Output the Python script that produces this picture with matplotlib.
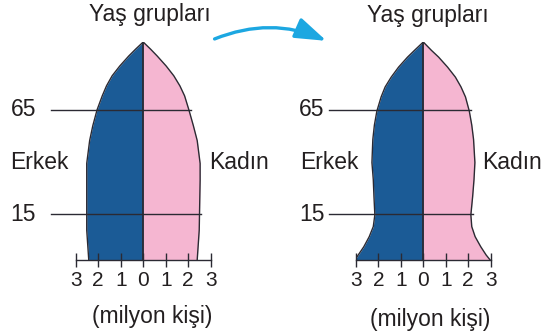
import numpy as np
import matplotlib
matplotlib.use("Agg")
import matplotlib.pyplot as plt
from matplotlib.patches import FancyArrowPatch

plt.rcParams["font.family"] = ["Liberation Sans", "DejaVu Sans"]

# height along the pyramid, 0 = bottom, 100 = top (percent)
h_old = [0, 13.7, 36.5, 44.3, 54.8, 61.6, 68.9, 75.3, 79.9, 84.5, 89.0, 93.6, 96.7, 100]
male_old = [2.42, 2.51, 2.51, 2.51, 2.38, 2.24, 2.05, 1.82, 1.63, 1.38, 1.04, 0.64, 0.34, 0]
female_old = [2.40, 2.49, 2.53, 2.53, 2.40, 2.23, 2.03, 1.84, 1.63, 1.36, 1.02, 0.62, 0.33, 0]

h_new = [0, 2.3, 6.1, 10.7, 15.3, 20.7, 29.2, 36.9, 44.7, 55.3, 61.9, 68.3, 74.8, 79.4,
         83.9, 88.5, 93.1, 96.2, 100]
male_new = [3.05, 2.90, 2.65, 2.41, 2.23, 2.16, 2.20, 2.23, 2.29, 2.25, 2.18, 2.07, 1.88,
            1.70, 1.43, 1.10, 0.70, 0.39, 0]
female_new = [2.98, 2.80, 2.56, 2.31, 2.16, 2.12, 2.20, 2.26, 2.30, 2.24, 2.16, 2.05, 1.88,
              1.68, 1.43, 1.08, 0.68, 0.36, 0]

age_marks = ["15", "65"]
mark_levels = [21, 69]

ticks = [-3, -2, -1, 0, 1, 2, 3]
tick_labels = ["3", "2", "1", "0", "1", "2", "3"]

BLUE = "#1b5b96"
PINK = "#f5b6d1"
EDGE = "#2b2a33"
TXT = "#231f20"
FS = 16.5

fig = plt.figure(figsize=(5.45, 3.35), dpi=100)


def pyramid(ax, h, male, female, lab_x, line_x0, erkek_x, kadin_x, mid_x, title_y, unit_y):
    h = np.array(h)
    male = np.array(male)
    female = np.array(female)
    ax.fill_betweenx(h, -male, 0, color=BLUE, lw=0)
    ax.fill_betweenx(h, 0, female, color=PINK, lw=0)
    ax.plot(-male, h, color=EDGE, lw=1.0)
    ax.plot(female, h, color=EDGE, lw=1.0)
    ax.axvline(0, color=EDGE, lw=1.3)

    for lab, lv in zip(age_marks, mark_levels):
        x1 = np.interp(lv, h, female) + 0.08
        ax.plot([line_x0, x1], [lv, lv], color=EDGE, lw=1.0, clip_on=False)
        ax.text(lab_x, lv, lab, ha="right", va="center", fontsize=FS, color=TXT)

    ax.text(erkek_x, 44.5, "Erkek", ha="left", va="center", fontsize=FS, color=TXT)
    ax.text(kadin_x, 44.5, "Kadın", ha="left", va="center", fontsize=FS, color=TXT)
    ax.text(mid_x, title_y, "Yaş grupları", ha="center", va="baseline", fontsize=FS, color=TXT)
    ax.text(mid_x + 0.08, unit_y, "(milyon kişi)", ha="center", va="center", fontsize=FS, color=TXT)

    ax.set_xlim(-3, 3)
    ax.set_ylim(0, 100)
    for s in ["top", "right", "left"]:
        ax.spines[s].set_visible(False)
    ax.spines["bottom"].set_color(EDGE)
    ax.spines["bottom"].set_linewidth(1.0)
    ax.set_yticks([])
    ax.set_xticks(ticks, tick_labels)
    ax.tick_params(axis="x", direction="inout", length=10, width=1.0, color=EDGE,
                   labelsize=15, labelcolor=TXT, pad=3)
    ax.set_facecolor("none")


ax1 = fig.add_axes([0.1389, 0.2239, 0.2477, 0.6507])
pyramid(ax1, h_old, male_old, female_old, lab_x=-4.76, line_x0=-4.1,
        erkek_x=-5.92, kadin_x=2.92, mid_x=0.3, title_y=109.6, unit_y=-26.1)

ax2 = fig.add_axes([0.6532, 0.2239, 0.2470, 0.6507])
pyramid(ax2, h_new, male_new, female_new, lab_x=-4.39, line_x0=-4.21,
        erkek_x=-5.5, kadin_x=2.62, mid_x=0.21, title_y=109.2, unit_y=-27.5)

arrow = FancyArrowPatch((212 / 545, 1 - 40 / 335), (329 / 545, 1 - 42 / 335),
                        transform=fig.transFigure, connectionstyle="arc3,rad=-0.22",
                        arrowstyle="-|>,head_length=0.95,head_width=0.32",
                        mutation_scale=20, color="#1ca7e1", lw=2.4)
fig.patches.append(arrow)

fig.savefig("out.png", dpi=100)
